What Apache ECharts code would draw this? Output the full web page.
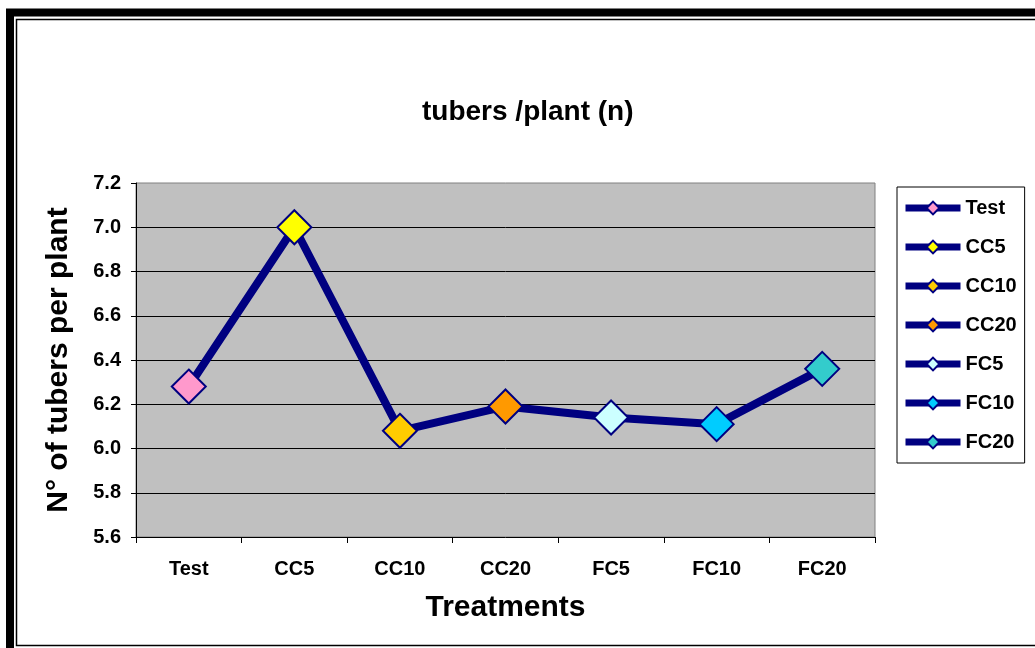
<!DOCTYPE html>
<html>
<head>
<meta charset="utf-8">
<script src="https://cdn.jsdelivr.net/npm/echarts@6/dist/echarts.min.js"></script>
<style>html,body{margin:0;padding:0;background:#fff}#c{width:1035px;height:648px}</style>
</head>
<body>
<div id="c"></div>
<script>
var categories = ['Test', 'CC5', 'CC10', 'CC20', 'FC5', 'FC10', 'FC20'];
var values = [6.28, 7.0, 6.08, 6.19, 6.14, 6.11, 6.36];
var markerColors = ['#FF99CC', '#FFFF00', '#FFCC00', '#FF9900', '#CCFFFF', '#00CCFF', '#33CCCC'];
var yTicks = { min: 5.6, max: 7.2, interval: 0.2 };

var NAVY = '#000080';
var FONT = '"Liberation Sans", Arial, sans-serif';

var chart = echarts.init(document.getElementById('c'), null, { renderer: 'canvas' });

var legendSeries = categories.map(function (name, i) {
  return {
    name: name,
    type: 'line',
    data: [],
    symbol: 'diamond',
    lineStyle: { color: NAVY, width: 7 },
    itemStyle: { color: markerColors[i], borderColor: NAVY, borderWidth: 1.5 }
  };
});

var option = {
  animation: false,
  backgroundColor: '#fff',
  title: {
    text: 'tubers /plant (n)',
    left: 422,
    top: 98,
    padding: 0,
    textStyle: { fontFamily: FONT, fontWeight: 'bold', fontSize: 28, color: '#000' }
  },
  legend: {
    orient: 'vertical',
    left: 897,
    top: 187,
    padding: [11, 8, 11, 5],
    itemGap: 19,
    itemWidth: 55,
    itemHeight: 16,
    backgroundColor: '#fff',
    borderColor: '#000',
    borderWidth: 1,
    borderRadius: 0,
    data: categories,
    lineStyle: { width: 7, color: NAVY },
    textStyle: { fontFamily: FONT, fontWeight: 'bold', fontSize: 20, color: '#000' }
  },
  grid: {
    left: 136, right: 160, top: 183, bottom: 111,
    show: true,
    backgroundColor: '#C0C0C0',
    borderColor: '#808080',
    borderWidth: 1
  },
  xAxis: {
    type: 'category',
    data: categories,
    boundaryGap: true,
    name: 'Treatments',
    nameLocation: 'middle',
    nameGap: 56,
    nameTextStyle: { fontFamily: FONT, fontWeight: 'bold', fontSize: 30, color: '#000' },
    axisLine: { show: true, lineStyle: { color: '#000', width: 1 } },
    axisTick: { show: true, length: 6, lineStyle: { color: '#000' } },
    axisLabel: { margin: 22, fontFamily: FONT, fontWeight: 'bold', fontSize: 20, color: '#000' },
    splitLine: { show: false }
  },
  yAxis: {
    type: 'value',
    min: yTicks.min,
    max: yTicks.max,
    interval: yTicks.interval,
    name: 'N° of tubers per plant',
    nameLocation: 'middle',
    nameRotate: 90,
    nameGap: 62,
    nameTextStyle: { fontFamily: FONT, fontWeight: 'bold', fontSize: 30, color: '#000' },
    axisLine: { show: true, lineStyle: { color: '#000', width: 1 } },
    axisTick: { show: true, inside: false, length: 5, lineStyle: { color: '#000' } },
    axisLabel: {
      margin: 15, fontFamily: FONT, fontWeight: 'bold', fontSize: 20, color: '#000',
      formatter: function (v) { return v.toFixed(1); }
    },
    splitLine: { show: true, showMaxLine: false, showMinLine: false, lineStyle: { color: '#000', width: 1 } }
  },
  graphic: [
    { type: 'rect', shape: { x: 10, y: 12.5, width: 1100, height: 660 }, style: { fill: 'none', stroke: '#000', lineWidth: 8 }, silent: true },
    { type: 'rect', shape: { x: 16.5, y: 19.5, width: 1100, height: 626 }, style: { fill: 'none', stroke: '#000', lineWidth: 1.5 }, silent: true }
  ],
  series: [{
    name: 'main',
    type: 'line',
    z: 3,
    data: values.map(function (v, i) {
      return { value: v, itemStyle: { color: markerColors[i], borderColor: NAVY, borderWidth: 2 } };
    }),
    symbol: 'diamond',
    symbolSize: 34,
    lineStyle: { color: NAVY, width: 8 }
  }].concat(legendSeries)
};
chart.setOption(option);
</script>
</body>
</html>
